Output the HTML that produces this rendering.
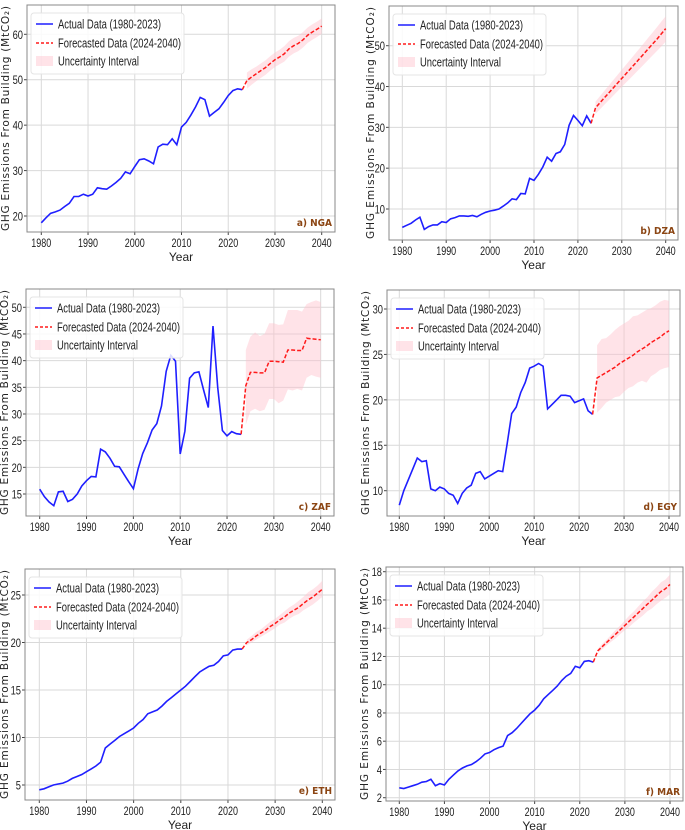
<!DOCTYPE html>
<html><head><meta charset="utf-8"><style>
body{margin:0;background:#fff;}
svg{display:block;}
.tk{font-family:"Liberation Sans Narrow","Liberation Sans",sans-serif;font-size:12px;fill:#222;}
.lg{font-family:"Liberation Sans Narrow","Liberation Sans",sans-serif;font-size:12.5px;fill:#222;}
.yl{font-family:"DejaVu Sans",sans-serif;font-size:10.5px;fill:#222;}
.an{font-family:"DejaVu Sans Condensed","DejaVu Sans",sans-serif;font-size:10px;font-weight:bold;fill:#8B4513;}
</style></head><body>
<svg id="fig" width="685" height="830" viewBox="0 0 685 830" xmlns="http://www.w3.org/2000/svg"></svg>
<script>
const actualYears=[];for(let y=1980;y<=2023;y++)actualYears.push(y);
const forecastYears=[];for(let y=2024;y<=2040;y++)forecastYears.push(y);
const xTicks=[1980,1990,2000,2010,2020,2030,2040];

const ngaActual=[18.5,19.6,20.6,20.9,21.3,22.1,22.8,24.3,24.3,24.8,24.4,24.8,26.2,26.0,25.9,26.6,27.4,28.3,29.7,29.3,30.9,32.4,32.6,32.1,31.5,35.2,35.8,35.7,37.0,35.7,39.6,40.6,42.2,44.0,46.1,45.6,42.0,42.8,43.6,45.0,46.5,47.6,48.0,47.8];
const ngaForecast=[49.8,50.6,51.3,52.0,52.7,53.6,54.4,55.0,55.7,56.8,57.5,58.0,58.8,59.8,60.5,61.1,61.8];
const ngaLower=[48.0,48.9,49.7,50.4,51.1,52.0,52.8,53.4,54.0,55.1,55.8,56.3,57.1,58.1,58.8,59.4,60.1];
const ngaUpper=[51.6,52.3,52.9,53.6,54.3,55.2,56.0,56.6,57.4,58.5,59.2,59.7,60.5,61.5,62.2,62.8,63.5];
const ngaTicks=[20,30,40,50,60];

const dzaActual=[5.5,6.0,6.5,7.3,8.0,5.0,5.7,6.1,6.1,6.9,6.7,7.6,7.9,8.3,8.3,8.2,8.4,8.1,8.7,9.2,9.5,9.7,10.0,10.7,11.5,12.5,12.3,13.8,13.7,17.5,17.0,18.5,20.3,22.7,21.7,23.6,24.0,25.8,30.5,32.9,31.7,30.4,32.8,31.0];
const dzaForecast=[34.8,36.0,37.2,38.4,39.6,40.8,42.0,43.2,44.4,45.6,46.8,48.0,49.2,50.4,51.6,52.9,54.2];
const dzaLower=[33.3,34.4,35.5,36.6,37.7,38.8,39.9,41.0,42.1,43.2,44.3,45.4,46.5,47.6,48.7,49.8,51.0];
const dzaUpper=[36.3,37.6,38.9,40.2,41.5,42.8,44.1,45.4,46.7,48.0,49.3,50.6,51.9,53.2,54.5,55.9,57.2];
const dzaTicks=[10,20,30,40,50];

const zafActual=[15.9,14.5,13.5,12.8,15.4,15.5,13.6,14.0,15.0,16.5,17.5,18.3,18.2,23.4,22.9,21.7,20.2,20.1,18.7,17.3,16.0,19.7,22.6,24.6,27.0,28.2,31.5,38.0,41.0,39.9,22.5,26.8,36.7,37.7,37.9,34.5,31.2,46.5,35.0,26.9,25.9,26.7,26.3,26.2];
const zafForecast=[35.3,37.8,37.8,37.7,37.7,39.9,39.9,39.8,39.7,42.0,42.0,41.9,41.9,44.2,44.1,44.0,43.9];
const zafLower=[28.0,30.5,31.0,30.5,30.8,32.8,32.8,32.0,32.5,34.6,34.4,34.7,34.4,36.8,37.3,37.0,36.8];
const zafUpper=[42.0,44.5,45.3,44.6,45.0,47.0,47.0,46.7,46.8,49.5,49.5,49.5,49.2,50.6,51.0,51.3,51.0];
const zafTicks=[15,20,25,30,35,40,45,50];

const egyActual=[8.4,10.0,11.2,12.4,13.6,13.2,13.3,10.2,10.0,10.4,10.2,9.7,9.5,8.6,9.7,10.3,10.6,11.9,12.1,11.3,11.6,11.9,12.2,12.1,15.2,18.5,19.2,20.8,21.9,23.5,23.7,24.0,23.7,19.0,19.5,20.0,20.5,20.5,20.4,19.7,19.9,20.1,18.8,18.4];
const egyForecast=[22.4,22.7,23.0,23.3,23.6,24.0,24.3,24.6,24.9,25.3,25.6,25.9,26.3,26.6,26.9,27.3,27.6];
const egyLower=[18.6,19.1,19.7,20.0,20.3,20.4,20.9,21.3,21.5,21.9,22.1,21.9,22.6,22.9,23.3,23.5,23.6];
const egyUpper=[26.0,26.7,26.8,27.2,27.7,28.1,28.4,28.7,29.2,29.3,29.6,29.9,30.1,30.4,30.8,31.0,30.9];
const egyTicks=[10,15,20,25,30];

const ethActual=[4.5,4.6,4.8,5.0,5.1,5.2,5.4,5.7,5.9,6.1,6.4,6.7,7.0,7.4,8.9,9.3,9.7,10.1,10.4,10.7,11.0,11.5,11.9,12.5,12.7,12.9,13.3,13.8,14.2,14.6,15.0,15.4,15.9,16.4,16.9,17.2,17.5,17.6,18.0,18.6,18.7,19.2,19.3,19.3];
const ethForecast=[20.0,20.3,20.7,21.0,21.3,21.7,22.0,22.4,22.7,23.1,23.4,23.7,24.1,24.5,24.8,25.2,25.6];
const ethLower=[19.7,20.0,20.3,20.6,20.9,21.2,21.5,21.9,22.1,22.5,22.8,23.0,23.4,23.7,24.0,24.4,24.8];
const ethUpper=[20.3,20.7,21.1,21.4,21.8,22.2,22.5,22.9,23.3,23.7,24.0,24.4,24.8,25.3,25.6,26.0,26.5];
const ethTicks=[5,10,15,20,25];

const marActual=[2.7,2.65,2.75,2.85,2.95,3.1,3.15,3.3,2.85,3.0,2.9,3.3,3.6,3.9,4.1,4.25,4.35,4.55,4.8,5.1,5.2,5.4,5.55,5.65,6.4,6.6,6.9,7.25,7.6,7.95,8.2,8.55,9.0,9.3,9.6,9.9,10.3,10.6,10.8,11.3,11.2,11.65,11.7,11.6];
const marForecast=[12.4,12.7,13.0,13.3,13.6,13.9,14.2,14.5,14.8,15.1,15.4,15.7,16.0,16.3,16.6,16.8,17.1];
const marLower=[12.25,12.5,12.8,13.05,13.3,13.6,13.85,14.1,14.4,14.65,14.9,15.2,15.4,15.7,15.95,16.15,16.4];
const marUpper=[12.55,12.9,13.2,13.55,13.9,14.2,14.55,14.9,15.2,15.55,15.9,16.2,16.6,16.9,17.25,17.45,17.8];
const marTicks=[2,4,6,8,10,12,14,16,18];

const NS='http://www.w3.org/2000/svg';
const svg=document.getElementById('fig');
function mk(tag,attrs,parent){const e=document.createElementNS(NS,tag);for(const k in attrs)e.setAttribute(k,attrs[k]);(parent||svg).appendChild(e);return e;}

const panels=[
 {id:'nga',label:'a) NGA',A:ngaActual,F:ngaForecast,L:ngaLower,U:ngaUpper,T:ngaTicks,box:[27,5,335,232],x0:41.3,x1:321.7,yv:[20,60],yp:[216,34.3],ylx:6},
 {id:'dza',label:'b) DZA',A:dzaActual,F:dzaForecast,L:dzaLower,U:dzaUpper,T:dzaTicks,box:[389,6,678,240],x0:402.3,x1:665.7,yv:[10,50],yp:[209,45.7],ylx:371},
 {id:'zaf',label:'c) ZAF',A:zafActual,F:zafForecast,L:zafLower,U:zafUpper,T:zafTicks,box:[26,289,334,516],x0:39.7,x1:320.7,yv:[15,50],yp:[494,307.3],ylx:5},
 {id:'egy',label:'d) EGY',A:egyActual,F:egyForecast,L:egyLower,U:egyUpper,T:egyTicks,box:[387,290,680,516],x0:399.3,x1:669,yv:[10,30],yp:[490.7,309],ylx:366},
 {id:'eth',label:'e) ETH',A:ethActual,F:ethForecast,L:ethLower,U:ethUpper,T:ethTicks,box:[25,569,335,800],x0:39.3,x1:322.3,yv:[5,25],yp:[785,595],ylx:5},
 {id:'mar',label:'f) MAR',A:marActual,F:marForecast,L:marLower,U:marUpper,T:marTicks,box:[386,567,683,801],x0:399.3,x1:670,yv:[2,18],yp:[797.7,571.7],ylx:365}
];

panels.forEach(p=>{
 const [L,T,R,B]=p.box;
 const g=mk('g',{});
 
 
 const X=y=>p.x0+(y-1980)*(p.x1-p.x0)/60;
 const Y=v=>p.yp[0]+(v-p.yv[0])*(p.yp[1]-p.yp[0])/(p.yv[1]-p.yv[0]);
 xTicks.forEach(t=>{
  const l=mk('line',{x1:X(t),x2:X(t),y1:T,y2:B,stroke:'#d9d9d9','stroke-width':1},g);
  
  
  const tl=mk('text',{x:X(t),y:B+15,'text-anchor':'middle',class:'tk',textLength:20,lengthAdjust:'spacingAndGlyphs'},g);tl.textContent=t;
  
  
  mk('line',{x1:X(t),x2:X(t),y1:B,y2:B+3,stroke:'#444'},g);
 });
 p.T.forEach(t=>{
  const l=mk('line',{x1:L,x2:R,y1:Y(t),y2:Y(t),stroke:'#d9d9d9','stroke-width':1},g);
  
  
  const s=String(t);
  const tl=mk('text',{x:L-4,y:Y(t)+4.5,'text-anchor':'end',class:'tk',textLength:s.length*5.2,lengthAdjust:'spacingAndGlyphs'},g);tl.textContent=s;
  
  
  mk('line',{x1:L-3,x2:L,y1:Y(t),y2:Y(t),stroke:'#444'},g);
 });
 let d='';
 forecastYears.forEach((yr,i)=>{d+=(i?'L':'M')+X(yr).toFixed(1)+','+Y(p.U[i]).toFixed(1);});
 for(let i=forecastYears.length-1;i>=0;i--)d+='L'+X(forecastYears[i]).toFixed(1)+','+Y(p.L[i]).toFixed(1);
 const band=mk('path',{d:d+'Z',fill:'#ffc0cb','fill-opacity':0.45,stroke:'none'},g);
 
 
 const ap=actualYears.map((yr,i)=>X(yr).toFixed(1)+','+Y(p.A[i]).toFixed(1)).join(' ');
 const al=mk('polyline',{points:ap,fill:'none',stroke:'#1f1fff','stroke-width':1.6},g);
 
 
 const fp=[X(2023).toFixed(1)+','+Y(p.A[p.A.length-1]).toFixed(1)].concat(forecastYears.map((yr,i)=>X(yr).toFixed(1)+','+Y(p.F[i]).toFixed(1))).join(' ');
 const fl=mk('polyline',{points:fp,fill:'none',stroke:'#ff1a1a','stroke-width':1.5,'stroke-dasharray':'4,2'},g);
 
 
 const fr=mk('rect',{x:L,y:T,width:R-L,height:B-T,fill:'none',stroke:'#888','stroke-width':1},g);
 
 
 const lx=L+4,ly=T+8;
 const lg=mk('g',{},g);
 
 
 mk('rect',{x:lx,y:ly,width:153,height:61,rx:3,fill:'#fff','fill-opacity':0.85,stroke:'#e4e4e4'},lg);
 mk('line',{x1:lx+5,x2:lx+22,y1:ly+11,y2:ly+11,stroke:'#1f1fff','stroke-width':1.6},lg);
 mk('line',{x1:lx+5,x2:lx+22,y1:ly+30,y2:ly+30,stroke:'#ff1a1a','stroke-width':1.5,'stroke-dasharray':'3,2'},lg);
 mk('rect',{x:lx+5,y:ly+43,width:17,height:10,fill:'#ffc0cb','fill-opacity':0.45},lg);
 const lbl=[['Actual Data (1980-2023)',103,ly+15.5],['Forecasted Data (2024-2040)',123,ly+34.5],['Uncertainty Interval',81,ly+52.5]];
 lbl.forEach(([s,w,yy])=>{const t=mk('text',{x:lx+27,y:yy,class:'lg',textLength:w,lengthAdjust:'spacingAndGlyphs'},lg);t.textContent=s;
  
  });
 const an=mk('text',{x:R-3,y:B-6,'text-anchor':'end',class:'an'},g);an.textContent=p.label;
 
 
 const xt=mk('text',{x:(L+R)/2,y:B+29,'text-anchor':'middle',class:'tk'},g);xt.textContent='Year';
 
 
 const cy=(T+B)/2;
 const yt=mk('text',{x:p.ylx,y:cy,'text-anchor':'middle','dominant-baseline':'central',class:'yl',transform:'rotate(-90 '+p.ylx+' '+cy+')',textLength:B-T-2,lengthAdjust:'spacing'},g);
 yt.textContent='GHG Emissions From Building (MtCO\u2082)';
 
 
});
</script>
</body></html>
